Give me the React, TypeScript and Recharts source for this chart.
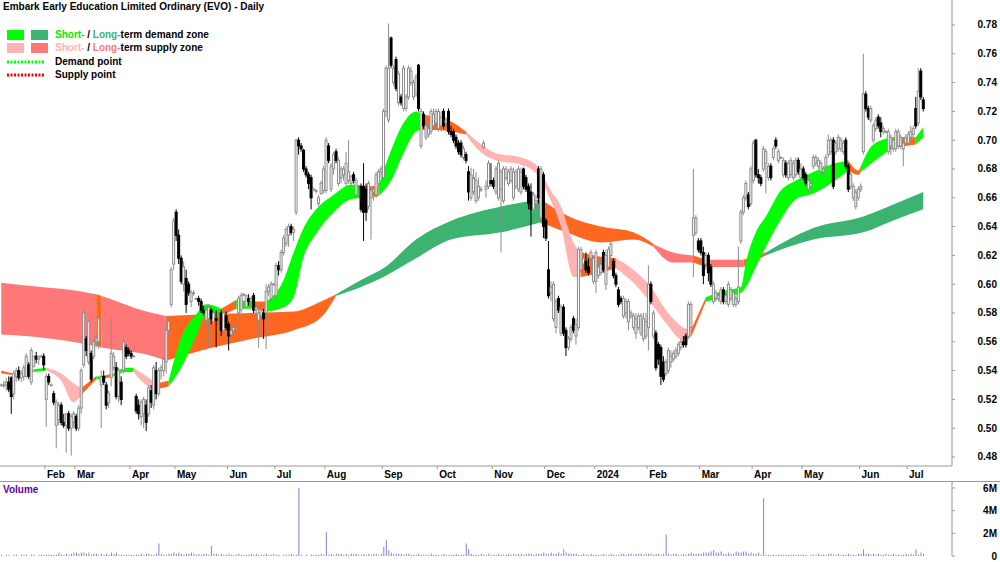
import React from "react";
import { ComposedChart, Bar, Area, XAxis, YAxis } from "recharts";

const FONT = '"Liberation Sans", Arial, sans-serif';

// prices are in cents, one row per traded day: [open, high, low, close]
const jan23 = [
  [53, 53.1, 53, 53], [53, 53.3, 52.8, 53], [53, 53.5, 52.6, 53.2], [53.2, 53.6, 52.5, 52.7],
  [53.5, 53.6, 51, 52.2], [52.4, 54, 52, 53.8], [53.6, 54.2, 53.2, 54], [54, 54.3, 53.3, 53.5],
  [53.5, 54, 53.2, 53.8], [53.6, 54.4, 53.3, 54.2], [53.6, 55.2, 53.5, 55], [54.4, 54.6, 53.4, 53.6],
  [53.2, 55.6, 53, 55.4], [54.3, 55, 54.2, 55], [55, 55.3, 54.5, 54.8], [54.8, 55, 54.4, 55],
  [55, 55.1, 55, 55], [55, 55.2, 54, 54.4],
];
const feb23 = [
  [52, 53.8, 50.1, 53.6], [53.6, 53.8, 53, 53.2], [53, 53.1, 53, 53], [52.4, 52.6, 51.6, 51.8],
  [50.2, 52, 48.6, 51.8], [50.6, 51.8, 50.2, 51.6], [51.6, 51.8, 50.2, 50.4], [50.4, 51, 50, 50.2],
  [50.2, 51, 48.3, 51], [51, 51.2, 49.8, 50], [50, 51, 48.1, 50.8], [50.4, 51.2, 50, 51],
];
const mar23 = [
  [50.8, 51, 49.8, 50], [50, 51.6, 49.8, 51.4], [51.4, 54.2, 51, 54], [54.4, 58.2, 54.2, 58],
  [56.2, 56.4, 55, 55.4], [54.6, 57.6, 54.4, 57.4], [55.2, 55.4, 53.2, 53.4], [55, 56.2, 54.8, 56],
  [56, 56.6, 55.6, 56.2], [56, 57.8, 55.5, 57.6], [53, 54, 50, 53.6], [53.6, 54, 53, 53.2],
  [53, 53.2, 51.3, 51.6], [51.8, 52.6, 51.4, 52.4], [53.5, 57.6, 52.9, 55.2], [54.2, 55.3, 54, 55],
  [54.2, 54.6, 52, 52.2], [52.2, 54.2, 51.8, 54], [53.2, 53.6, 51.6, 52], [54, 56.2, 53.8, 56],
  [55.6, 55.8, 54.8, 55], [55.4, 55.6, 55, 55.2],
];
const apr23 = [
  [55.2, 55.4, 54.8, 55], [55, 55.1, 55, 55], [52.2, 52.4, 51, 51.2], [51.6, 52, 50.6, 51],
  [50.8, 52, 50.2, 51.8], [51, 52.2, 50, 52], [51.6, 52, 49.8, 50.4], [51, 53, 50.8, 52.8],
  [52.6, 53, 51.4, 51.8], [51.6, 54.4, 51.3, 54.2], [54, 54.6, 52, 52.4], [52.4, 54.2, 52.2, 54],
  [54, 54.4, 53.4, 54.2], [54, 55, 53.6, 54.8], [54.6, 57.2, 53.8, 56.8], [56.8, 57.8, 56.5, 57.4],
  [58.6, 61.2, 58.4, 61], [61.4, 64.6, 61, 64.4],
];
const may23 = [
  [65, 65.2, 63, 63.4], [63.4, 63.8, 61.4, 61.8], [61.8, 62, 60, 60.2], [60, 61.6, 59.5, 61.2],
  [60.4, 61, 58, 58.6], [60, 60.2, 59.2, 59.4], [58.8, 59.6, 58.4, 59.4], [59.4, 59.6, 59.2, 59.4],
  [59, 59.1, 59, 59], [59, 59.2, 58.5, 58.8], [58.8, 59, 58, 58.2], [58.2, 58.5, 57.8, 58],
  [57.5, 58.5, 57, 58.2], [57.6, 58.6, 55.6, 58.4], [58.2, 58.4, 57.2, 57.6], [57.4, 58.3, 57, 58],
  [57.6, 58.2, 55.6, 57.5], [58, 58.1, 58, 58], [58, 58.2, 56.4, 56.8], [56.8, 58.2, 56.5, 58],
  [57.8, 58.1, 56.8, 57],
];
const jun23 = [
  [57.2, 57.4, 55.4, 56.4], [56.5, 57, 56, 56.8], [56.8, 57.2, 56.6, 57], [57, 57.2, 56.8, 57],
  [58, 59.2, 57.8, 59], [58.2, 59.4, 58, 59.2], [59.3, 59.4, 59.2, 59.3], [58.4, 59.3, 58.3, 59.2],
  [59, 59.3, 58.5, 58.8], [58.8, 59.2, 58.4, 59], [59.2, 59.4, 58, 58.2], [58.2, 58.6, 57.5, 58.4],
  [57.5, 58.2, 55.6, 58], [57.8, 58.4, 57.5, 58.2], [58, 58.3, 56.2, 57.6], [58, 60, 55.5, 59.5],
  [59.5, 60, 59.2, 59.8], [59, 60.2, 58.8, 60], [60, 60.1, 60, 60],
];
const jul23 = [
  [59.2, 61.5, 59, 61.3], [61.3, 61.6, 60.6, 61], [61, 62.4, 60.8, 62.2], [62.2, 63.4, 62, 63.2],
  [62.8, 64, 62.6, 63.8], [63.4, 64.2, 62.6, 64], [64, 64.2, 63.4, 63.6], [63.6, 64, 63, 63.8],
  [65, 70.1, 64.8, 70], [70, 70.2, 69, 69.6], [69.6, 69.8, 69.2, 69.4], [69.3, 69.4, 67.8, 68],
  [68, 68.2, 67.4, 67.6], [67.6, 67.8, 66.6, 67], [67.4, 67.6, 65.2, 66], [66.6, 66.7, 66.5, 66.6],
  [66.5, 66.6, 66.3, 66.5], [65.6, 66.2, 65.4, 66], [66.3, 67.2, 66.2, 67], [66.5, 68.2, 66.3, 68],
];
const aug23 = [
  [66.5, 70.2, 66.3, 70], [69.6, 69.8, 68.4, 68.6], [66.6, 68.4, 66.4, 68.2], [68, 69.2, 67.6, 69],
  [69.2, 69.4, 68.4, 68.6], [67, 68.8, 66.8, 68.6], [67.4, 68.2, 67, 68], [67.6, 68.2, 67.2, 68],
  [67, 69.2, 66.8, 68.4], [67.2, 70, 67, 67.8], [67, 67.6, 66.8, 67.5], [67.6, 67.8, 67, 67.2],
  [66.2, 67.4, 66, 67.2], [66.8, 66.9, 66.7, 66.8], [66.8, 67, 65, 65.2], [66.8, 68.4, 63, 65],
  [66.6, 67, 64.4, 65], [65.4, 67.2, 65.2, 67], [66, 66.8, 63.1, 66.5], [66.4, 66.8, 65.8, 66.6],
  [66.2, 67.8, 66, 67.6], [67, 68, 66.8, 67.8], [67.8, 68.2, 67.4, 68],
];
const sep23 = [
  [67.4, 72.2, 67.2, 72], [72, 75.2, 71.6, 75], [71.4, 78.1, 71.2, 75], [77.1, 77.2, 75, 75.2],
  [74, 75.2, 73.8, 75], [75.6, 75.8, 73.4, 73.6], [72.6, 74.8, 72.4, 74.6], [73, 73.2, 72.4, 72.6],
  [72.2, 75.2, 72, 75], [72.2, 73.2, 72, 73], [73, 75.2, 72.8, 75], [74, 75.1, 73.8, 74.8],
  [73, 74.2, 72.8, 74], [73.2, 74.6, 73, 74.4], [75.2, 75.3, 72, 72.2], [69.6, 72.2, 69.4, 72],
  [71.8, 72, 70.8, 71], [70.2, 71.2, 70, 71], [70.4, 71.2, 70.2, 70.8], [70.6, 72.2, 70.4, 72],
  [71, 72.2, 70.8, 71.8], [71.2, 72.2, 71, 72],
];
const oct23 = [
  [70.8, 72.2, 70.6, 72], [71, 72, 70.6, 71.6], [72, 72.2, 70.8, 71], [71.2, 71.6, 70.8, 71.4],
  [72, 72.2, 70.4, 70.6], [70.6, 71, 70.2, 70.4], [70.6, 70.8, 69.8, 70], [70.2, 70.4, 69.4, 69.6],
  [69.8, 70, 69, 69.2], [69.8, 70, 68.8, 69], [68.8, 69.6, 68.6, 69.4], [69, 69.2, 68.4, 68.6],
  [67.8, 68.2, 65.8, 66.4], [66, 68.1, 65.8, 67.6], [66.4, 68, 66.2, 67.4], [65.8, 67.8, 65.6, 67.2],
  [66, 67.4, 65.8, 66.8], [66.6, 66.8, 66.4, 66.6], [69.5, 70, 69.4, 69.8], [66.6, 67.2, 66, 66.8],
  [66.8, 68.6, 66.6, 68.4], [67.2, 68.4, 66.8, 67],
];
const nov23 = [
  [67.2, 67.4, 66.6, 66.8], [66.4, 68.2, 66.2, 68], [66, 68.6, 65.8, 68.4], [66.6, 68, 62.2, 67.8],
  [65.8, 68.2, 65.6, 68], [67.4, 68.2, 67.2, 68], [67, 68, 66.8, 67.8], [67.2, 68.2, 67, 68],
  [66, 68.1, 65.8, 67.8], [66.8, 68, 66.6, 67.8], [66.6, 68.2, 66.4, 68], [66.4, 68.1, 66.2, 67.8],
  [68, 68.1, 66.6, 66.8], [67.4, 67.6, 66.4, 66.6], [66.8, 67, 65.2, 65.6], [66.4, 67, 63.3, 65.2],
  [65.2, 66.4, 65, 66.2], [65.6, 66.2, 65, 65.8], [68, 68.2, 65.6, 66], [64.6, 68.2, 64.2, 68],
  [67.6, 67.8, 63.2, 64],
];
const dec23 = [
  [64.4, 64.6, 63, 63.2], [61, 63, 59, 59.2], [59.4, 60.2, 58.8, 59.8], [57.6, 60.2, 57.4, 60],
  [57, 59, 56.6, 58.8], [59, 59.2, 58, 58.2], [56.6, 58.6, 56.4, 58.4], [58.4, 58.6, 56.4, 56.6],
  [56.8, 57, 55, 55.6], [55.6, 56.4, 55.4, 56.2], [56.2, 57.2, 56, 57], [57.6, 57.8, 56.6, 56.8],
  [56.4, 57.6, 55.8, 57.2], [57, 62.6, 56.8, 62.4], [61, 62.6, 60.8, 62.4], [61.4, 62.2, 61, 61.8],
  [61.6, 62.2, 60.8, 61], [61.2, 61.8, 60.6, 60.8], [61.8, 62.4, 61.6, 62.2], [60.2, 62, 60, 61.8],
];
const jan24 = [
  [60.2, 62.4, 59.4, 62.2], [60.6, 61.6, 60.4, 61.2], [60.8, 61.8, 60.6, 61.4], [62.2, 62.4, 60.8, 61],
  [60, 62.4, 59.6, 62], [61.2, 62.6, 61, 62.4], [62, 63, 61.8, 62.8], [61.6, 61.8, 60.4, 60.6],
  [60.6, 60.8, 59.8, 60], [59.6, 59.8, 58.4, 58.6], [59, 59.2, 58.6, 58.8], [57.8, 59.2, 57.6, 59],
  [58, 59, 57.6, 58.8], [57.4, 59, 56.8, 58.8], [57.8, 58.2, 57.6, 58], [57, 58, 56.8, 57.8],
  [56.6, 58, 56.2, 57.6], [57, 58, 56.8, 57.8], [56.6, 58, 56.4, 57.8], [56.2, 58, 56, 57.6],
  [56.4, 58, 56.2, 57.4],
];
const feb24 = [
  [57, 61.3, 55.4, 60], [60, 60.2, 58.6, 58.8], [56.4, 58.2, 56.2, 58], [56.6, 56.8, 54, 54.2],
  [55.8, 56, 54.4, 54.8], [55.6, 55.8, 53, 53.6], [54.6, 55, 53.2, 53.4], [53.8, 54.8, 53.6, 54.6],
  [54, 55.6, 53.8, 55.4], [54.6, 55.4, 54.2, 55], [54.8, 55.4, 54.6, 55.2], [55, 55.6, 54.8, 55.4],
  [55.2, 56, 55, 55.8], [55.6, 56.2, 55.4, 56], [56, 56.4, 55.6, 55.8], [56.4, 56.6, 55.6, 55.8],
  [56.4, 58.8, 56.2, 58.6], [57, 58.8, 56.8, 58.6], [63.4, 68, 60.5, 64.6], [63.6, 64.8, 63.4, 64.6],
  [63, 63.2, 62.2, 62.4],
];
const mar24 = [
  [63, 63.2, 62, 62.2], [62.2, 62.6, 60, 60.6], [61.4, 62.2, 61, 62], [62, 62.2, 60.2, 60.8],
  [61.2, 61.4, 59.8, 60], [58.8, 60.2, 58.6, 60], [59, 59.6, 58.8, 59.4], [59, 59.4, 58.8, 59.2],
  [58.8, 59.8, 58.6, 59.6], [59.6, 59.8, 58.6, 58.8], [58.8, 59.4, 58.6, 59.2], [58.6, 60.2, 58.4, 60],
  [59, 59.8, 58.8, 59.6], [58.6, 59.6, 58.4, 59.4], [58.6, 59.2, 58.4, 59], [58.8, 62.6, 58.6, 59.8],
  [63, 65.2, 62.8, 65], [65, 66.2, 64.8, 66], [66, 67.2, 65.8, 67], [66.2, 66.4, 65.2, 65.4],
  [65.6, 68.2, 65.4, 68],
];
const apr24 = [
  [67.2, 70, 67, 69.8], [70, 70.1, 67.4, 67.6], [67.6, 68, 67, 67.4], [67.4, 67.6, 66.8, 67],
  [68, 69.6, 67.8, 69.4], [68.4, 69.4, 66.3, 69.2], [67.4, 68.4, 67.2, 68.2], [68.2, 68.4, 67.2, 67.4],
  [68.8, 69.6, 68.6, 69.4], [70, 70.2, 69.4, 69.6], [68.6, 69.4, 68.4, 69.2], [68.8, 68.9, 68.8, 68.8],
  [67.6, 68.8, 67.4, 68.6], [68.4, 68.6, 67.4, 67.6], [67.4, 68.6, 67.2, 68.4], [67.6, 68.8, 67.4, 68.6],
  [67.4, 68.6, 67.2, 68.4], [67.6, 68.8, 67.4, 68.6], [68.6, 68.8, 67.6, 67.8], [67.4, 68.4, 67.2, 68],
];
const may24 = [
  [68, 68.2, 67.2, 67.4], [67.6, 67.8, 66.8, 67], [66.6, 67.4, 66.4, 67.2], [66.8, 67.2, 66.6, 67],
  [68.2, 69, 68, 68.8], [68.4, 69, 68.2, 68.8], [68.2, 68.8, 68, 68.6], [67.8, 68.6, 67.6, 68.4],
  [67.8, 68.2, 67.6, 68], [68.2, 69, 68, 68.8], [69, 70.4, 68.8, 70], [69.2, 70.2, 69, 70],
  [70, 70.2, 66.6, 66.8], [69.2, 70, 69, 69.8], [69.4, 70.4, 69.2, 70.2], [69.4, 70.2, 69.2, 70],
  [69.2, 70, 69, 69.8], [70, 70.2, 68, 68.2], [68.2, 68.4, 66.4, 66.6], [66.8, 67.8, 66.6, 67.6],
  [66, 67, 65.8, 66.8], [65.4, 66.6, 65.2, 66.4], [66, 66.8, 65.8, 66.6],
];
const jun24 = [
  [66.6, 67, 66.4, 66.8], [69.2, 76, 69, 73.2], [73.2, 73.4, 72, 72.2], [72.2, 72.4, 71.4, 71.6],
  [71.4, 72.4, 71.2, 72.2], [70, 71.2, 69.8, 71], [70.8, 71.6, 70.6, 71.4], [71.6, 71.8, 70.8, 71],
  [71.2, 71.6, 70.2, 70.6], [70.6, 71, 70.4, 70.8], [70.6, 70.7, 70.5, 70.6], [69.2, 70.8, 69, 70.6],
  [69.6, 70.4, 69, 70.2], [69.4, 70.2, 69.2, 70], [69.4, 70.8, 69.2, 70.6], [69.6, 70.8, 69.4, 70.6],
  [69.6, 70.4, 69.4, 70.2], [69.4, 70.2, 68.2, 69.8], [69.8, 70.4, 69.6, 70.2],
];
const jul24 = [
  [69.8, 70.6, 69.6, 70.4], [70.2, 71, 70, 70.6], [70.4, 71, 70.2, 70.8], [72.2, 73, 70.8, 71],
  [71.2, 75, 71, 73.4], [74.8, 75, 72.8, 73], [72.8, 73, 72, 72.2],
];
const CANDLES = [
  ...jan23, ...feb23, ...mar23, ...apr23, ...may23, ...jun23, ...jul23, ...aug23, ...sep23, ...oct23,
  ...nov23, ...dec23, ...jan24, ...feb24, ...mar24, ...apr24, ...may24, ...jun24, ...jul24,
];

// volume in units of 100k shares, same day order as above
const VOLUME = [
  1, 0, 1, 1, 0, 1, 1, 0, 1, 1, 1, 0, 1, 1, 0, 1, 1, 1,
  1, 1, 1, 1, 1, 3, 1, 1, 2, 1, 2, 3,
  3, 2, 3, 3, 2, 3, 1, 2, 2, 1, 2, 1, 2, 1, 3, 2, 3, 1, 1, 1, 1, 1,
  1, 1, 1, 1, 2, 1, 2, 2, 1, 1, 2, 11, 2, 1, 1, 2, 2, 3,
  2, 3, 2, 1, 2, 2, 3, 2, 1, 2, 1, 2, 2, 1, 9, 2, 2, 1, 2, 1, 1,
  2, 1, 1, 1, 2, 1, 1, 1, 1, 2, 1, 2, 1, 1, 1, 2, 1, 1, 2,
  1, 1, 0, 1, 1, 1, 2, 1, 1, 60, 1, 0, 1, 0, 1, 1, 1, 1, 2, 1,
  21, 1, 2, 1, 2, 2, 2, 1, 2, 1, 2, 2, 2, 1, 1, 2, 1, 2, 1, 2, 2, 1, 2,
  8, 14, 5, 3, 2, 2, 2, 2, 1, 2, 2, 1, 1, 1, 2, 1, 1, 1, 1, 2, 1, 1,
  1, 1, 2, 1, 1, 1, 1, 2, 1, 1, 1, 11, 6, 2, 1, 1, 1, 2, 1, 1, 2, 1,
  1, 1, 2, 1, 1, 1, 2, 1, 2, 1, 2, 2, 1, 2, 2, 2, 1, 2, 2, 2, 3,
  2, 2, 3, 2, 2, 3, 2, 6, 3, 2, 2, 2, 2, 1, 1, 2, 1, 1, 2, 1,
  1, 1, 1, 2, 1, 1, 2, 1, 1, 1, 2, 2, 1, 2, 2, 1, 2, 2, 2, 1, 2,
  2, 2, 1, 2, 2, 1, 2, 19, 2, 1, 2, 2, 1, 1, 2, 1, 2, 3, 2, 2, 2,
  2, 3, 3, 3, 4, 5, 3, 3, 4, 2, 2, 3, 2, 2, 4, 3, 3, 4, 4, 2, 3,
  2, 2, 3, 1, 51, 1, 1, 1, 1, 1, 1, 1, 1, 1, 1, 1, 1, 1, 1, 1,
  1, 1, 0, 1, 1, 1, 2, 1, 1, 1, 2, 2, 1, 1, 2, 1, 1, 1, 2, 1, 1, 1, 2,
  2, 6, 2, 2, 1, 2, 1, 2, 1, 1, 2, 1, 1, 2, 1, 1, 1, 1, 2,
  1, 2, 1, 6, 1, 3, 2,
];

const MONTH_STARTS = [18, 30, 52, 70, 91, 110, 130, 153, 175, 197, 218, 238, 259, 280, 301, 321, 344, 363];
const MONTH_LABELS = ["Feb", "Mar", "Apr", "May", "Jun", "Jul", "Aug", "Sep", "Oct", "Nov", "Dec", "2024", "Feb", "Mar", "Apr", "May", "Jun", "Jul"];
const PRICE_TICKS = [48, 50, 52, 54, 56, 58, 60, 62, 64, 66, 68, 70, 72, 74, 76, 78];
const VOLUME_TICKS = [0, 20, 40, 60];

// zone key points: [day index, lower, upper, colour of the stretch that starts here]
const SHORT_ZONE = [
  [0, 53.8, 54.0, "o"], [6, 53.7, 53.8, "o"], [13, 53.9, 54.1, "g"], [18, 54.0, 54.2, "p"],
  [24, 53.3, 53.8, "p"], [29, 51.8, 53.1, "p"], [32, 52.3, 52.8, "o"], [38, 53.4, 53.6, "g"],
  [40, 53.4, 53.6, "o"], [45, 53.6, 53.8, "g"], [50, 53.9, 54.2, "g"], [53, 53.9, 54.2, "p"],
  [58, 53.0, 53.6, "p"], [62, 52.7, 53.1, "o"], [67, 52.9, 53.3, "g"], [72, 54.2, 56.3, "g"],
  [78, 56.4, 57.9, "g"], [82, 57.9, 58.6, "g"], [88, 57.8, 58.3, "o"], [94, 58.3, 58.9, "g"],
  [101, 58.3, 58.8, "o"], [106, 58.1, 58.8, "g"], [113, 58.4, 60.3, "g"], [117, 59.1, 62.2, "g"],
  [121, 61.9, 63.9, "g"], [126, 63.5, 65.2, "g"], [133, 65.0, 66.2, "g"], [140, 65.9, 66.9, "g"],
  [145, 66.0, 66.8, "o"], [151, 66.1, 66.8, "g"], [156, 67.2, 69.3, "g"], [161, 69.1, 71.2, "g"],
  [166, 70.6, 72.0, "g"], [168, 70.7, 71.8, "o"], [174, 70.7, 71.6, "o"], [180, 70.6, 71.3, "o"],
  [186, 70.4, 70.6, "p"], [190, 69.5, 70.0, "p"], [198, 68.6, 69.1, "p"], [208, 68.3, 68.8, "p"],
  [214, 67.7, 68.3, "p"], [220, 65.8, 66.5, "p"], [224, 64.0, 65.4, "p"], [229, 60.5, 62.9, "p"],
  [232, 60.5, 62.2, "o"], [240, 60.8, 61.9, "o"], [246, 61.1, 61.8, "p"], [253, 60.1, 61.0, "p"],
  [260, 58.7, 59.8, "p"], [266, 57.3, 58.2, "p"], [273, 56.1, 57.0, "p"], [276, 56.3, 56.8, "o"],
  [282, 58.8, 59.1, "g"], [288, 59.0, 59.5, "g"], [296, 59.4, 59.8, "g"], [298, 59.8, 61.5, "g"],
  [302, 61.2, 63.6, "g"], [306, 62.6, 64.7, "g"], [312, 64.5, 66.5, "g"], [318, 65.9, 67.2, "g"],
  [325, 66.3, 67.8, "g"], [332, 67.0, 68.3, "g"], [339, 67.9, 68.6, "o"], [343, 67.6, 67.9, "o"],
  [344, 67.8, 68.2, "g"], [349, 68.5, 69.7, "g"], [357, 69.5, 70.2, "o"], [366, 69.7, 70.2, "g"],
  [369, 70.2, 70.9, "g"],
];
const LONG_ZONE = [
  [0, 56.5, 60.1, "P"], [16, 56.3, 59.8, "P"], [32, 55.9, 59.5, "P"], [38, 55.7, 59.3, "o"],
  [40, 55.6, 59.2, "P"], [48, 55.4, 58.7, "P"], [56, 55.2, 58.2, "P"], [66, 54.7, 57.8, "o"],
  [80, 55.4, 57.9, "o"], [100, 56.2, 58.0, "o"], [117, 56.8, 58.1, "o"], [128, 57.7, 58.8, "o"],
  [134, 59.2, 59.3, "G"], [144, 59.8, 60.3, "G"], [153, 60.5, 61.1, "G"], [166, 61.8, 63.1, "G"],
  [180, 63.1, 64.4, "G"], [200, 63.6, 65.4, "G"], [216, 64.3, 65.9, "o"], [226, 63.6, 64.8, "o"],
  [240, 62.9, 64.0, "o"], [253, 63.1, 63.6, "o"], [261, 62.6, 62.8, "P"], [269, 61.5, 62.2, "P"],
  [277, 61.5, 62.0, "o"], [282, 61.2, 61.7, "P"], [297, 61.2, 61.7, "o"], [306, 62.0, 62.2, "G"],
  [325, 63.1, 63.9, "G"], [345, 63.6, 64.7, "G"], [358, 64.5, 65.6, "G"], [369, 65.2, 66.4, "G"],
];

const ZONE_COLORS: Record<string, string> = {
  g: "#00ff00",
  G: "#3cb371",
  p: "#ffb3b3",
  P: "#ff7878",
  o: "#ff6620",
};

const SLOTS = 381;

const rows: any[] = Array.from({ length: SLOTS }, (_, i) => {
  const r: any = { i };
  const k = CANDLES[i];
  if (k) {
    r.o = k[0];
    r.h = k[1];
    r.l = k[2];
    r.c = k[3];
    r.v = VOLUME[i];
  }
  return r;
});

// split a zone into same-coloured stretches, each its own area series
function buildZone(name: string, keys: any[]) {
  const segs: any[] = [];
  for (let k = 0; k < keys.length - 1; k++) {
    const color = keys[k][3];
    const last = segs[segs.length - 1];
    if (last && last.color === color) last.pts.push(keys[k + 1]);
    else segs.push({ color, pts: [keys[k], keys[k + 1]] });
  }
  segs.forEach((s, n) => {
    s.key = name + n;
    s.pts.forEach((p: any) => {
      rows[p[0]][s.key] = [p[1], p[2]];
    });
  });
  return segs;
}

const longSegs = buildZone("lz", LONG_ZONE);
const shortSegs = buildZone("sz", SHORT_ZONE);

const candleRange = (d: any) => (d.h == null ? null : [d.l, d.h]);

const renderCandle = (props: any) => {
  const { x, y, width, height, payload } = props;
  if (!payload || payload.h == null) return <g />;
  const { o, h, l, c } = payload;
  const top = Math.min(y, y + height);
  const span = Math.abs(height);
  const cx = x + width / 2;
  const py = (v: number) => top + ((h - v) / (h - l)) * span;
  const up = c >= o;
  const bTop = py(Math.max(o, c));
  const bBot = py(Math.min(o, c));
  const col = up ? "#8c8c8c" : "#000";
  return (
    <g>
      <line x1={cx} x2={cx} y1={top} y2={top + span} stroke={col} strokeWidth={1} />
      <rect x={cx - 1} y={bTop} width={2} height={Math.max(bBot - bTop, 0.8)} fill={up ? "#fff" : "#000"} stroke={col} strokeWidth={1} />
    </g>
  );
};

const MonthTick = (p: any) => {
  const n = MONTH_STARTS.indexOf(p.payload.value);
  const left = p.x - (p.payload.offset ?? 1.25);
  return (
    <g>
      <line x1={left} x2={left} y1={p.y} y2={p.y + 3} stroke="#999" />
      <text x={left + 2} y={p.y + 12} fontSize={10} fontWeight="bold" fontFamily={FONT} fill="#000">
        {MONTH_LABELS[n]}
      </text>
    </g>
  );
};

const PriceTick = (p: any) => (
  <text x={p.x + 42} y={p.y} textAnchor="end" dominantBaseline="central" fontSize={10} fontWeight="bold" fontFamily={FONT} fill="#000">
    {(p.payload.value / 100).toFixed(2)}
  </text>
);

const VolTick = (p: any) => (
  <text x={p.x + 42} y={p.y} textAnchor="end" dominantBaseline="central" fontSize={10} fontWeight="bold" fontFamily={FONT} fill="#000">
    {p.payload.value === 0 ? "0" : p.payload.value / 10 + "M"}
  </text>
);

const Dots = ({ color }: { color: string }) => (
  <svg width={42} height={4} style={{ position: "absolute", left: 6, top: -2 }}>
    <line x1={1} x2={39} y1={2} y2={2} stroke={color} strokeWidth={3} strokeDasharray="2 1.5" />
  </svg>
);

export default function App() {
  const legendText: React.CSSProperties = { position: "absolute", left: 55, whiteSpace: "nowrap", lineHeight: "12px" };
  return (
    <div style={{ position: "absolute", left: 0, top: 0, width: 1000, height: 562, overflow: "hidden", background: "#fff", fontFamily: FONT }}>
      <div style={{ position: "absolute", left: 0, top: 0 }}>
        <ComposedChart width={1000} height={481} data={rows} margin={{ top: 0, right: 0, bottom: 0, left: 0 }}>
          <XAxis
            dataKey="i"
            type="category"
            ticks={MONTH_STARTS}
            interval={0}
            height={15}
            tickSize={0}
            tickMargin={0}
            tickLine={false}
            axisLine={{ stroke: "#999" }}
            tick={<MonthTick />}
          />
          <YAxis
            orientation="right"
            width={48}
            domain={[47.375, 79.736]}
            allowDataOverflow
            ticks={PRICE_TICKS}
            interval={0}
            tickSize={3}
            tickMargin={0}
            axisLine={{ stroke: "#999" }}
            tickLine={{ stroke: "#999" }}
            tick={<PriceTick />}
          />
          {longSegs.map((s) => (
            <Area key={s.key} dataKey={s.key} type="monotone" stroke="none" fill={ZONE_COLORS[s.color]} fillOpacity={1} connectNulls dot={false} activeDot={false} isAnimationActive={false} />
          ))}
          {shortSegs.map((s) => (
            <Area key={s.key} dataKey={s.key} type="monotone" stroke="none" fill={ZONE_COLORS[s.color]} fillOpacity={1} connectNulls dot={false} activeDot={false} isAnimationActive={false} />
          ))}
          <Bar dataKey={candleRange} shape={renderCandle} isAnimationActive={false} />
        </ComposedChart>
      </div>
      <div style={{ position: "absolute", left: 0, top: 481, width: 1000, height: 1, background: "#999" }} />
      <div style={{ position: "absolute", left: 0, top: 482 }}>
        <ComposedChart width={1000} height={80} data={rows} margin={{ top: 0, right: 0, bottom: 6, left: 0 }}>
          <XAxis dataKey="i" type="category" hide />
          <YAxis
            orientation="right"
            width={48}
            domain={[0, 65.3]}
            allowDataOverflow
            ticks={VOLUME_TICKS}
            interval={0}
            tickSize={3}
            tickMargin={0}
            axisLine={{ stroke: "#999" }}
            tickLine={{ stroke: "#999" }}
            tick={<VolTick />}
          />
          <Bar dataKey="v" fill="#8080e0" barSize={1} isAnimationActive={false} />
        </ComposedChart>
      </div>

      <div style={{ position: "absolute", left: 0, top: 0, fontSize: 10, fontWeight: "bold", color: "#000" }}>
        <div style={{ position: "absolute", left: 3, top: 1, whiteSpace: "nowrap", lineHeight: "12px" }}>
          Embark Early Education Limited Ordinary (EVO) - Daily
        </div>
        <div style={{ position: "absolute", left: 7, top: 30, width: 17, height: 10, background: "#00ff00" }} />
        <div style={{ position: "absolute", left: 31, top: 30, width: 17, height: 10, background: "#3cb371" }} />
        <div style={{ ...legendText, top: 29 }}>
          <span style={{ color: "#00ee00" }}>Short-</span> / <span style={{ color: "#3cb371" }}>Long-</span>term demand zone
        </div>
        <div style={{ position: "absolute", left: 7, top: 43, width: 17, height: 10, background: "#ffb3b3" }} />
        <div style={{ position: "absolute", left: 31, top: 43, width: 17, height: 10, background: "#ff7878" }} />
        <div style={{ ...legendText, top: 42 }}>
          <span style={{ color: "#ffb3b3" }}>Short-</span> / <span style={{ color: "#ff7878" }}>Long-</span>term supply zone
        </div>
        <div style={{ position: "absolute", left: 0, top: 62 }}>
          <Dots color="#00ff00" />
        </div>
        <div style={{ ...legendText, top: 56 }}>Demand point</div>
        <div style={{ position: "absolute", left: 0, top: 75 }}>
          <Dots color="#ff0000" />
        </div>
        <div style={{ ...legendText, top: 69 }}>Supply point</div>
        <div style={{ position: "absolute", left: 3, top: 484, color: "#660099", whiteSpace: "nowrap", lineHeight: "12px" }}>Volume</div>
      </div>
    </div>
  );
}
